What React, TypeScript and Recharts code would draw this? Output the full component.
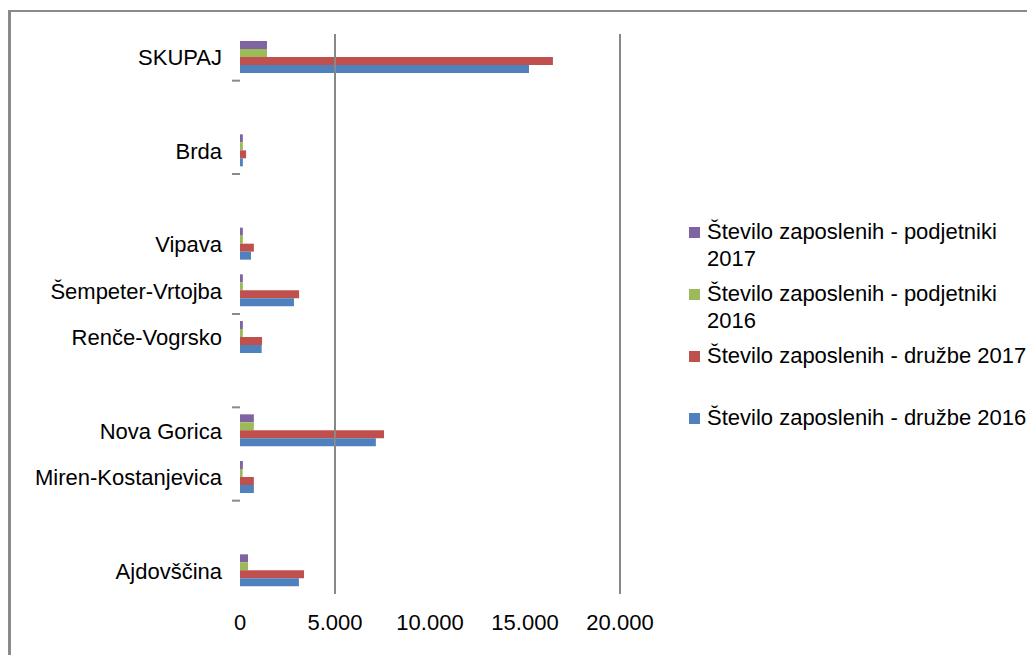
import React from "react";
import {
  BarChart,
  Bar,
  XAxis,
  YAxis,
  ReferenceLine,
} from "recharts";

// categories top to bottom; "" are empty slots on the category axis
const CATEGORIES = [
  "SKUPAJ",
  "",
  "Brda",
  "",
  "Vipava",
  "Šempeter-Vrtojba",
  "Renče-Vogrsko",
  "",
  "Nova Gorica",
  "Miren-Kostanjevica",
  "",
  "Ajdovščina",
];

const PODJETNIKI_2017 = [1420, null, 150, null, 150, 150, 150, null, 730, 150, null, 420];
const PODJETNIKI_2016 = [1420, null, 150, null, 150, 150, 150, null, 730, 140, null, 420];
const DRUZBE_2017 = [16470, null, 320, null, 730, 3110, 1160, null, 7580, 730, null, 3370];
const DRUZBE_2016 = [15210, null, 150, null, 580, 2840, 1140, null, 7150, 730, null, 3100];

const X_TICKS = [0, 5000, 10000, 15000, 20000];
const GRID_AT = [5000, 20000];
// slots below which a small tick mark is visible
const TICK_BELOW = [0, 2, 5, 7, 9];

const SERIES = [
  { key: "p17", name: "Število zaposlenih - podjetniki 2017", color: "#8064A2" },
  { key: "p16", name: "Število zaposlenih - podjetniki 2016", color: "#9BBB59" },
  { key: "d17", name: "Število zaposlenih - družbe 2017", color: "#C0504D" },
  { key: "d16", name: "Število zaposlenih - družbe 2016", color: "#4F81BD" },
];

const FONT = "'Liberation Sans', Arial, sans-serif";
const PLOT_TOP = 34;
const PLOT_BOTTOM = 594;

const data = CATEGORIES.map((name, i) => ({
  id: i,
  name,
  p17: PODJETNIKI_2017[i],
  p16: PODJETNIKI_2016[i],
  d17: DRUZBE_2017[i],
  d16: DRUZBE_2016[i],
}));

const fmt = (v: number) =>
  v === 0 ? "0" : v.toString().replace(/\B(?=(\d{3})+(?!\d))/g, ".");

const halfSlot = (PLOT_BOTTOM - PLOT_TOP) / CATEGORIES.length / 2;

function CategoryTick(props: any) {
  const { x, y, payload, index } = props;
  return (
    <g>
      <text
        x={x - 10}
        y={y}
        dy="0.36em"
        textAnchor="end"
        fontSize={22}
        fontFamily={FONT}
        fill="#000"
      >
        {CATEGORIES[index] ?? payload.value}
      </text>
      {TICK_BELOW.includes(index) && (
        <line
          x1={x}
          x2={x + 8}
          y1={y + halfSlot}
          y2={y + halfSlot}
          stroke="#8a8a8a"
          strokeWidth={2}
        />
      )}
    </g>
  );
}

export default function App() {
  return (
    <div
      style={{
        position: "fixed",
        left: 0,
        top: 0,
        width: 1027,
        height: 655,
        overflow: "hidden",
        background: "#fff",
        fontFamily: FONT,
      }}
    >
      {/* frame: only top and left edges fall inside the picture */}
      <div
        style={{
          position: "absolute",
          left: 8,
          top: 10,
          width: 1100,
          height: 700,
          borderLeft: "3px solid #8a8a8a",
          borderTop: "2px solid #8a8a8a",
        }}
      />
      <div style={{ position: "absolute", left: 0, top: 0 }}>
        <BarChart
          width={1027}
          height={655}
          data={data}
          layout="vertical"
          margin={{ top: PLOT_TOP, right: 407, bottom: 655 - PLOT_BOTTOM - 40, left: 0 }}
          barSize={8}
          barGap={0}
        >
          <XAxis
            type="number"
            domain={[0, 20000]}
            ticks={X_TICKS}
            tickFormatter={fmt}
            axisLine={false}
            tickLine={false}
            tickMargin={14}
            height={40}
            tick={{ fontSize: 22, fill: "#000", fontFamily: FONT }}
            interval={0}
          />
          <YAxis
            type="category"
            dataKey="id"
            width={240}
            axisLine={false}
            tickLine={false}
            interval={0}
            tick={<CategoryTick />}
          />
          {GRID_AT.map((v) => (
            <ReferenceLine key={v} x={v} stroke="#888" strokeWidth={2} />
          ))}
          {SERIES.map((s) => (
            <Bar
              key={s.key}
              dataKey={s.key}
              name={s.name}
              fill={s.color}
              isAnimationActive={false}
            />
          ))}
        </BarChart>
      </div>
      {/* legend */}
      <div style={{ position: "absolute", left: 689, top: 218, width: 340 }}>
        {SERIES.map((s) => (
          <div
            key={s.key}
            style={{ display: "flex", alignItems: "flex-start", height: 62 }}
          >
            <div
              style={{
                width: 11,
                height: 11,
                marginTop: 9,
                marginRight: 7,
                background: s.color,
                flex: "none",
              }}
            />
            <div style={{ fontSize: 22, lineHeight: "27px", color: "#000", width: 320 }}>
              {s.name}
            </div>
          </div>
        ))}
      </div>
    </div>
  );
}
